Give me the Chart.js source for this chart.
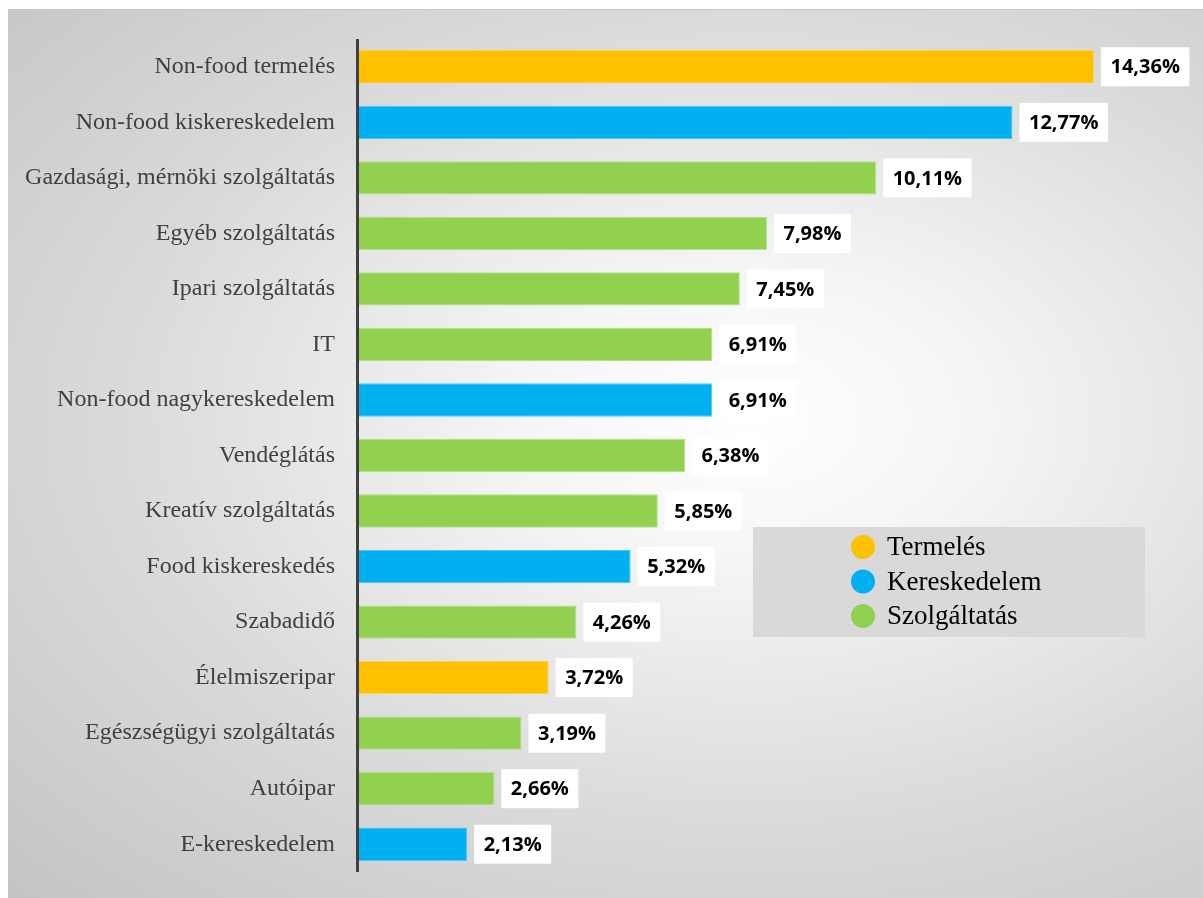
<!DOCTYPE html>
<html>
<head>
<meta charset="utf-8">
<script src="https://cdn.jsdelivr.net/npm/chart.js@4.4.1/dist/chart.umd.min.js"></script>
<style>
  html, body { margin: 0; padding: 0; background: #ffffff; }
  #wrap { position: relative; width: 1203px; height: 898px; overflow: hidden; }
  #panel {
    position: absolute; left: 8px; top: 9px; width: 1195px; height: 888px;
    background: radial-gradient(farthest-corner at 62% 46%, #ffffff 0%, #f5f5f5 22%, #dadada 60%, #c4c4c4 100%);
    border-top: 1px solid #c8c8c8;
  }
  #chart { position: absolute; left: 0; top: 0; }
</style>
</head>
<body>
<div id="wrap">
  <div id="panel"></div>
  <canvas id="chart" width="1203" height="898"></canvas>
</div>
<script>
// Categories (top to bottom)
var categories = ["Non-food termelés", "Non-food kiskereskedelem", "Gazdasági, mérnöki szolgáltatás",
  "Egyéb szolgáltatás", "Ipari szolgáltatás", "IT", "Non-food nagykereskedelem", "Vendéglátás",
  "Kreatív szolgáltatás", "Food kiskereskedés", "Szabadidő", "Élelmiszeripar",
  "Egészségügyi szolgáltatás", "Autóipar", "E-kereskedelem"];

// Share of each category in percent
var shares = [14.36, 12.77, 10.11, 7.98, 7.45, 6.91, 6.91, 6.38, 5.85, 5.32, 4.26, 3.72, 3.19, 2.66, 2.13];

// Sector of each category
var sectors = ["Termelés", "Kereskedelem", "Szolgáltatás", "Szolgáltatás", "Szolgáltatás", "Szolgáltatás",
  "Kereskedelem", "Szolgáltatás", "Szolgáltatás", "Kereskedelem", "Szolgáltatás", "Termelés",
  "Szolgáltatás", "Szolgáltatás", "Kereskedelem"];

// Legend entries
var legendNames = ["Termelés", "Kereskedelem", "Szolgáltatás"];

var sectorColor = { "Termelés": "#FFC000", "Kereskedelem": "#00B0F0", "Szolgáltatás": "#92D050" };
var sectorBorder = { "Termelés": "#FFD24D", "Kereskedelem": "#4DC8F5", "Szolgáltatás": "#B3DF85" };

function fmt(v) {
  return v.toFixed(2).replace('.', ',') + '%';
}

// white boxes with the value next to each bar
var valueBoxes = {
  id: 'valueBoxes',
  afterDatasetsDraw: function(chart) {
    var ctx = chart.ctx;
    var meta = chart.getDatasetMeta(0);
    ctx.save();
    ctx.font = 'bold 20px "Open Sans"';
    ctx.textBaseline = 'middle';
    meta.data.forEach(function(bar, i) {
      var txt = fmt(shares[i]);
      var w = ctx.measureText(txt).width;
      var x0 = bar.x + 7;
      ctx.fillStyle = '#ffffff';
      ctx.fillRect(x0, bar.y - 19.5, w + 19, 39);
      ctx.fillStyle = '#000000';
      ctx.fillText(txt, x0 + 9.5, bar.y + 1);
    });
    // vertical axis line
    var a = chart.chartArea;
    ctx.fillStyle = '#404040';
    ctx.fillRect(a.left - 2, a.top, 3, a.bottom - a.top);
    ctx.restore();
  }
};

// legend box inside the plot
var sectorLegend = {
  id: 'sectorLegend',
  afterDraw: function(chart) {
    var ctx = chart.ctx;
    ctx.save();
    ctx.fillStyle = '#d9d9d9';
    ctx.fillRect(753, 527, 392, 110);
    ctx.font = '27px "Liberation Serif"';
    ctx.textBaseline = 'middle';
    legendNames.forEach(function(name, i) {
      var y = 547 + i * 34.5;
      ctx.fillStyle = sectorColor[name];
      ctx.beginPath();
      ctx.arc(863, y, 12, 0, Math.PI * 2);
      ctx.fill();
      ctx.fillStyle = '#000000';
      ctx.fillText(name, 887, y + 1);
    });
    ctx.restore();
  }
};

new Chart(document.getElementById('chart'), {
  type: 'bar',
  data: {
    labels: categories,
    datasets: [{
      data: shares,
      backgroundColor: sectors.map(function(s) { return sectorColor[s]; }),
      borderColor: sectors.map(function(s) { return sectorBorder[s]; }),
      borderWidth: 1,
      barPercentage: 0.6,
      categoryPercentage: 1.0
    }]
  },
  options: {
    indexAxis: 'y',
    responsive: false,
    animation: false,
    layout: { padding: { top: 39, bottom: 26, right: 25, left: 0 } },
    plugins: {
      legend: { display: false },
      tooltip: { enabled: false }
    },
    scales: {
      x: {
        display: false,
        min: 0,
        max: 16
      },
      y: {
        grid: { display: false, drawTicks: false },
        border: { display: false },
        ticks: {
          color: '#404040',
          font: { family: '"Liberation Serif"', size: 24 },
          padding: 23
        },
        afterFit: function(scale) {
          scale.width = 358;
          scale.paddingTop = 0;
          scale.paddingBottom = 0;
        }
      }
    }
  },
  plugins: [valueBoxes, sectorLegend]
});
</script>
</body>
</html>
